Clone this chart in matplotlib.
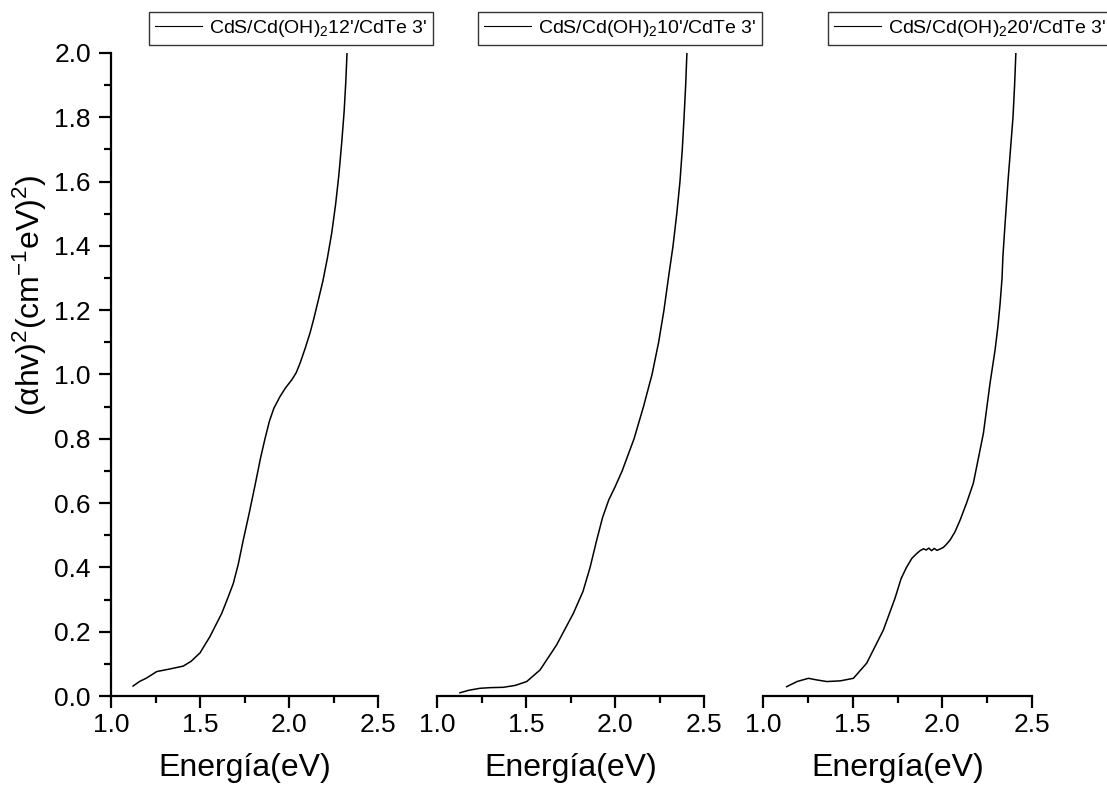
import matplotlib
matplotlib.use("Agg")
import matplotlib.pyplot as plt
from matplotlib.ticker import MultipleLocator

plt.rcParams["font.family"] = ["Liberation Sans", "DejaVu Sans"]
plt.rcParams["mathtext.fontset"] = "custom"
plt.rcParams["mathtext.rm"] = "Liberation Sans"
plt.rcParams["mathtext.it"] = "Liberation Sans:italic"
plt.rcParams["mathtext.bf"] = "Liberation Sans:bold"

# Photon energy (eV) and (alpha h nu)^2 for each deposition time
energy_12 = [1.124, 1.16, 1.20, 1.257, 1.33, 1.406, 1.45, 1.50, 1.556, 1.622,
             1.659, 1.687, 1.715, 1.743, 1.775, 1.809, 1.84, 1.865, 1.89, 1.915,
             1.949, 1.98, 2.015, 2.04, 2.062, 2.09, 2.118, 2.14, 2.165, 2.19,
             2.215, 2.24, 2.262, 2.28, 2.296, 2.31, 2.319, 2.326]
alpha_12 = [0.031, 0.045, 0.056, 0.076, 0.084, 0.093, 0.108, 0.134, 0.185, 0.257,
            0.309, 0.35, 0.41, 0.485, 0.565, 0.655, 0.74, 0.80, 0.855, 0.895,
            0.931, 0.958, 0.983, 1.005, 1.035, 1.08, 1.129, 1.175, 1.232, 1.29,
            1.36, 1.44, 1.53, 1.62, 1.72, 1.82, 1.91, 2.00]

energy_10 = [1.129, 1.18, 1.242, 1.30, 1.372, 1.44, 1.504, 1.579, 1.672, 1.766,
             1.82, 1.86, 1.895, 1.93, 1.965, 2.00, 2.04, 2.107, 2.16, 2.208,
             2.245, 2.275, 2.30, 2.326, 2.347, 2.365, 2.378, 2.388, 2.397, 2.404]
alpha_10 = [0.010, 0.018, 0.024, 0.026, 0.027, 0.033, 0.045, 0.081, 0.159, 0.257,
            0.325, 0.40, 0.48, 0.555, 0.61, 0.65, 0.70, 0.80, 0.90, 1.00,
            1.10, 1.20, 1.30, 1.40, 1.50, 1.60, 1.70, 1.80, 1.90, 2.00]

energy_20 = [1.132, 1.19, 1.253, 1.30, 1.355, 1.43, 1.504, 1.578, 1.671, 1.736,
             1.77, 1.80, 1.83, 1.855, 1.876, 1.895, 1.91, 1.925, 1.94, 1.955,
             1.97, 1.987, 2.005, 2.02, 2.043, 2.07, 2.099, 2.135, 2.173, 2.229,
             2.266, 2.294, 2.31, 2.322, 2.333, 2.338, 2.35, 2.366, 2.38, 2.394,
             2.403, 2.41]
alpha_20 = [0.029, 0.045, 0.055, 0.050, 0.045, 0.047, 0.055, 0.102, 0.205, 0.304,
            0.365, 0.400, 0.428, 0.442, 0.452, 0.458, 0.454, 0.460, 0.452, 0.459,
            0.453, 0.457, 0.462, 0.470, 0.485, 0.510, 0.547, 0.600, 0.662, 0.817,
            0.973, 1.076, 1.15, 1.22, 1.30, 1.37, 1.47, 1.60, 1.70, 1.80,
            1.90, 2.00]

labels = [r"CdS/Cd(OH)$_2$12'/CdTe 3'",
          r"CdS/Cd(OH)$_2$10'/CdTe 3'",
          r"CdS/Cd(OH)$_2$20'/CdTe 3'"]

series = [(energy_12, alpha_12), (energy_10, alpha_10), (energy_20, alpha_20)]

W, H = 1107, 793
fig = plt.figure(figsize=(W / 100, H / 100), dpi=100)

ax_left_px = [111, 437, 763]
ax_width_px = [267, 267, 269]
bottom = 1 - 696 / H
height = (696 - 53) / H

legend_left_px = [149, 478, 828]

for i, ((x, y), lab) in enumerate(zip(series, labels)):
    ax = fig.add_axes([ax_left_px[i] / W, bottom, ax_width_px[i] / W, height])
    ax.plot(x, y, color="black", lw=1.1, label=lab)
    ax.set_xlim(1.0, 2.5)
    ax.set_ylim(0.0, 2.0)
    ax.xaxis.set_major_locator(MultipleLocator(0.5))
    ax.xaxis.set_minor_locator(MultipleLocator(0.25))
    ax.yaxis.set_major_locator(MultipleLocator(0.2))
    ax.yaxis.set_minor_locator(MultipleLocator(0.1))
    ax.spines["top"].set_visible(False)
    ax.spines["right"].set_visible(False)
    ax.spines["bottom"].set_linewidth(1.6)
    ax.spines["left"].set_linewidth(1.6)
    ax.tick_params(axis="both", which="major", direction="out", length=8.5,
                   width=1.6, labelsize=19, pad=4)
    ax.tick_params(axis="both", which="minor", direction="out", length=5,
                   width=1.6)
    ax.tick_params(axis="y", which="major", pad=6)
    ax.set_xlabel("Energía(eV)", fontsize=23, labelpad=11)
    if i > 0:
        ax.spines["left"].set_visible(False)
        ax.tick_params(axis="y", which="both", left=False, labelleft=False)
    leg = ax.legend(loc="upper left",
                    bbox_to_anchor=(legend_left_px[i] / W, 1 - 12 / H),
                    bbox_transform=fig.transFigure,
                    fontsize=14, frameon=True, fancybox=False,
                    handlelength=2.4, handletextpad=0.4,
                    borderpad=0.3, borderaxespad=0)
    leg.get_frame().set_edgecolor("black")
    leg.get_frame().set_linewidth(1.0)
    for line in leg.get_lines():
        line.set_linewidth(0.8)

fig.text(30 / W, 1 - 295 / H, "(\u03b1hv)$^2$(cm$^{-1}$eV)$^2$)",
         rotation=90, ha="center", va="center", fontsize=23)

fig.savefig("out.png", dpi=100, facecolor="white")
